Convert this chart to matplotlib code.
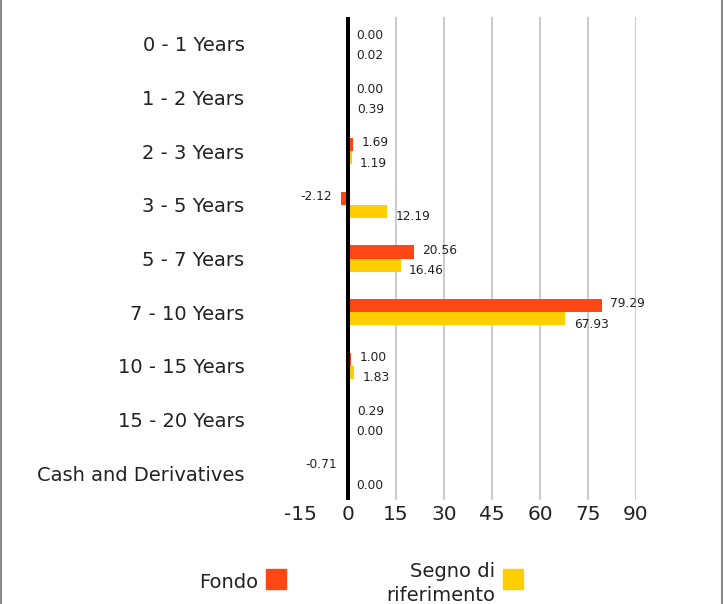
import matplotlib
matplotlib.use("Agg")
import matplotlib.pyplot as plt
from matplotlib.patches import Rectangle
from matplotlib.lines import Line2D

plt.rcParams['font.family'] = ['DejaVu Sans']
plt.rcParams['axes.unicode_minus'] = False

categories = ["0 - 1 Years", "1 - 2 Years", "2 - 3 Years", "3 - 5 Years",
              "5 - 7 Years", "7 - 10 Years", "10 - 15 Years", "15 - 20 Years",
              "Cash and Derivatives"]
fondo = [0.00, 0.00, 1.69, -2.12, 20.56, 79.29, 1.00, 0.29, -0.71]
benchmark = [0.02, 0.39, 1.19, 12.19, 16.46, 67.93, 1.83, 0.00, 0.00]
x_ticks = [-15, 0, 15, 30, 45, 60, 75, 90]
series_names = ["Fondo", "Segno di\nriferimento"]

ORANGE = "#FF4713"
YELLOW = "#FFCE00"
W, H = 724, 604

fig = plt.figure(figsize=(W / 100, H / 100), dpi=100)
ax = fig.add_axes([300 / W, 1 - 500 / H, 336 / W, 483 / H])

bar_h = 0.245
ys = list(range(len(categories)))
ax.barh([y - bar_h / 2 for y in ys], fondo, height=bar_h, color=ORANGE, zorder=3)
ax.barh([y + bar_h / 2 for y in ys], benchmark, height=bar_h, color=YELLOW, zorder=3)

ax.set_xlim(-15, 90)
ax.set_ylim(len(categories) - 0.5, -0.5)

# gridlines and the zero line
for t in x_ticks:
    if t > 0:
        ax.axvline(t, color="#cccccc", linewidth=1.5, zorder=1)
ax.axvline(0, color="black", linewidth=2.9, zorder=4)

# value labels
def label(vals, offset_y, sign_shift):
    for y, v in zip(ys, vals):
        yy = y + sign_shift
        if v < 0:
            ax.annotate(f"{v:.2f}", (v, yy), xytext=(-6.5, offset_y),
                        textcoords="offset points", ha="right", va="center",
                        fontsize=8.8, color="#222222", zorder=5)
        else:
            ax.annotate(f"{v:.2f}", (v, yy), xytext=(6, offset_y),
                        textcoords="offset points", ha="left", va="center",
                        fontsize=8.8, color="#222222", zorder=5)

label(fondo, 1.2, -bar_h / 2)
label(benchmark, -3.8, bar_h / 2)

ax.set_yticks(ys)
ax.set_yticklabels(categories, fontsize=14, color="#222222")
ax.set_xticks(x_ticks)
ax.set_xticklabels([str(t) for t in x_ticks], fontsize=14.5, color="#222222")
ax.tick_params(axis="both", length=0)
ax.tick_params(axis="y", pad=40)
ax.tick_params(axis="x", pad=3.5)
for s in ax.spines.values():
    s.set_visible(False)

# legend
fig.text(258 / W, 1 - 588 / H, series_names[0], ha="right", va="baseline",
         fontsize=14, color="#222222")
fig.patches.append(Rectangle((266 / W, 1 - 589 / H), 20 / W, 20 / H,
                             transform=fig.transFigure, color=ORANGE))
line1, line2 = series_names[1].split("\n")
fig.text(495 / W, 1 - 577 / H, line1, ha="right", va="baseline",
         fontsize=14, color="#222222")
fig.text(495 / W, 1 - 601 / H, line2, ha="right", va="baseline",
         fontsize=14, color="#222222")
fig.patches.append(Rectangle((503 / W, 1 - 589 / H), 20 / W, 20 / H,
                             transform=fig.transFigure, color=YELLOW))

# side frame lines
for xp in (1, 722):
    fig.lines.append(Line2D([xp / W, xp / W], [0, 1], transform=fig.transFigure,
                            color="#8a8a8a", linewidth=1.5))

fig.savefig("out.png", dpi=100)
